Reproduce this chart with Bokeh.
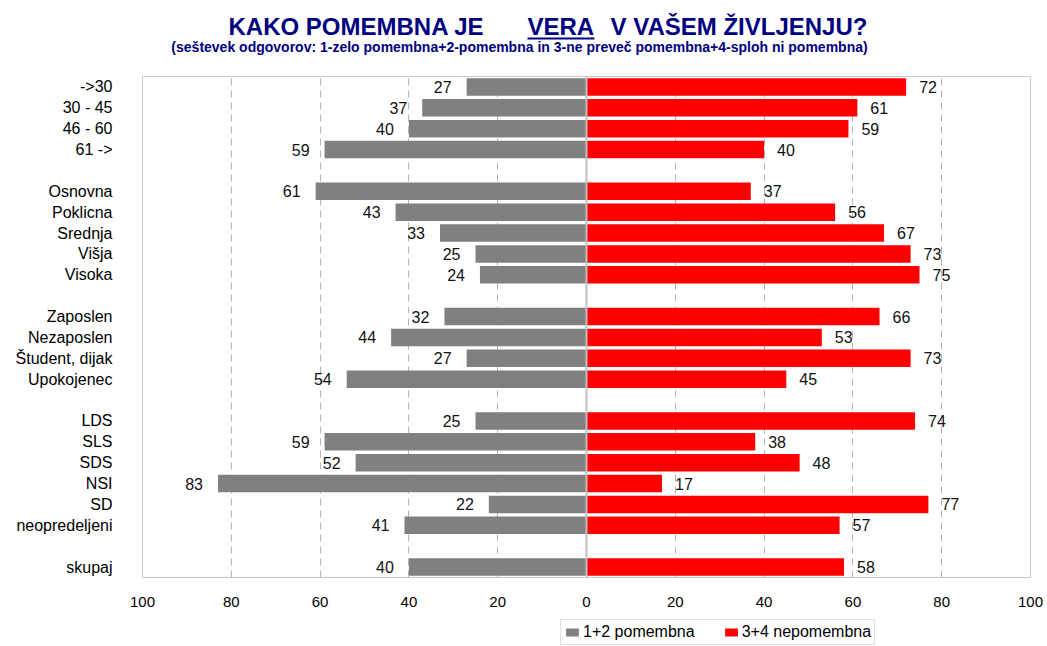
from bokeh.plotting import figure
from bokeh.models import (ColumnDataSource, FactorRange, Range1d, FixedTicker,
                          CustomJSTickFormatter, Legend, LegendItem, Span)
from bokeh.layouts import column
from bokeh.embed import file_html
from bokeh.resources import INLINE
from bokeh.core.properties import value

# ---- data ----
categories = ["->30", "30 - 45", "46 - 60", "61 ->",
              "Osnovna", "Poklicna", "Srednja", "Višja", "Visoka",
              "Zaposlen", "Nezaposlen", "Študent, dijak", "Upokojenec",
              "LDS", "SLS", "SDS", "NSI", "SD", "neopredeljeni",
              "skupaj"]
group_sizes = [4, 5, 4, 6, 1]
pomembna = [27, 37, 40, 59,
            61, 43, 33, 25, 24,
            32, 44, 27, 54,
            25, 59, 52, 83, 22, 41,
            40]
nepomembna = [72, 61, 59, 40,
              37, 56, 67, 73, 75,
              66, 53, 73, 45,
              74, 38, 48, 17, 77, 57,
              58]
ticks = list(range(-100, 101, 20))
series_names = ["1+2 pomembna", "3+4 nepomembna"]

FONT = "Liberation Sans"
NAVY = "#000080"
GRAY = "#808080"
RED = "#ff0000"
W = 1047
BL, BR = 142, 17                 # left/right borders shared by all stacked figures
FX0, FX1 = BL, W - BR            # frame extent in page pixels

# build factor list with blank spacer rows between groups
factors = []
i = 0
for g, n in enumerate(group_sizes):
    if g > 0:
        factors.append(" " * g)
    factors.extend(categories[i:i + n])
    i += n

src = ColumnDataSource(dict(
    cat=categories,
    neg=[-v for v in pomembna],
    pos=nepomembna,
    zero=[0] * len(categories),
    lneg=[str(v) for v in pomembna],
    lpos=[str(v) for v in nepomembna],
))

# ---- title figure (page-pixel coordinates) ----
TH = 70
t = figure(width=W, height=TH, x_range=Range1d(FX0, FX1), y_range=Range1d(TH, 0),
           output_backend="svg", toolbar_location=None,
           min_border_left=BL, min_border_right=BR, min_border_top=0, min_border_bottom=0,
           x_axis_location=None, y_axis_location=None, outline_line_color=None)
t.grid.visible = False
tkw = dict(text_font=value(FONT), text_font_size="24px", text_font_style="bold",
           text_color=NAVY, text_align="left", text_baseline="middle")
t.text(x=[228], y=[25.5], text=["KAKO POMEMBNA JE"], **tkw)
t.text(x=[527], y=[25.5], text=["VERA"], **tkw)
t.text(x=[610], y=[25.5], text=["V VAŠEM ŽIVLJENJU?"], **tkw)
t.segment(x0=[527], y0=[38], x1=[594], y1=[38], line_color=NAVY, line_width=2)
t.text(x=[519], y=[46],
       text=["(seštevek odgovorov: 1-zelo pomembna+2-pomembna in 3-ne preveč pomembna+4-sploh ni pomembna)"],
       text_font=value(FONT), text_font_size="14px", text_font_style="bold",
       text_color=NAVY, text_align="center", text_baseline="middle")

# ---- main figure ----
p = figure(width=W, height=540, y_range=FactorRange(factors=list(reversed(factors))),
           x_range=Range1d(-100, 100), output_backend="svg", toolbar_location=None,
           min_border_left=BL, min_border_right=BR, min_border_top=6, min_border_bottom=33)
p.outline_line_color = "#c8c8c8"
p.ygrid.visible = False
p.xgrid.ticker = FixedTicker(ticks=[-80, -60, -40, -20, 20, 40, 60, 80])
p.xgrid.grid_line_color = "#b4b4b4"
p.xgrid.grid_line_dash = "7 5"

p.hbar(y="cat", left="neg", right="zero", height=0.84, source=src,
       fill_color=GRAY, line_color=None)
p.hbar(y="cat", left="zero", right="pos", height=0.84, source=src,
       fill_color=RED, line_color=None)
p.add_layout(Span(location=0, dimension="height", line_color="#c0c0c0", line_width=2))

p.text(x="neg", y="cat", text="lneg", source=src, text_align="right",
       text_baseline="middle", x_offset=-15, text_font=value(FONT),
       text_font_size="16px", text_color="#111111")
p.text(x="pos", y="cat", text="lpos", source=src, text_align="left",
       text_baseline="middle", x_offset=13, text_font=value(FONT),
       text_font_size="16px", text_color="#111111")

p.xaxis.ticker = FixedTicker(ticks=ticks)
p.xaxis.formatter = CustomJSTickFormatter(code="return Math.abs(tick).toString();")
p.xaxis.axis_line_color = None
p.xaxis.major_tick_line_color = None
p.xaxis.minor_tick_line_color = None
p.xaxis.major_label_standoff = 13
p.xaxis.major_label_text_font = FONT
p.xaxis.major_label_text_font_size = "15px"
p.xaxis.major_label_text_color = "#000000"

p.yaxis.axis_line_color = None
p.yaxis.major_tick_line_color = None
p.yaxis.minor_tick_line_color = None
p.yaxis.major_label_standoff = 24
p.yaxis.major_label_text_font = FONT
p.yaxis.major_label_text_font_size = "16px"
p.yaxis.major_label_text_color = "#000000"

# ---- legend figure ----
LH = 36
lf = figure(width=W, height=LH, x_range=Range1d(0, 1), y_range=Range1d(0, 1),
            output_backend="svg", toolbar_location=None,
            min_border_left=BL, min_border_right=BR, min_border_top=0, min_border_bottom=0,
            x_axis_location=None, y_axis_location=None, outline_line_color=None)
lf.grid.visible = False
# legend swatches (one off-screen bar each so the legend draws its glyph)
g1 = lf.hbar(y=[-5], left=[-5], right=[-4], height=0.5, fill_color=GRAY, line_color=None)
g2 = lf.hbar(y=[-5], left=[-5], right=[-4], height=0.5, fill_color=RED, line_color=None)
legend = Legend(items=[LegendItem(label=series_names[0], renderers=[g1]),
                       LegendItem(label=series_names[1], renderers=[g2])],
                orientation="horizontal", location=(418, 1),
                border_line_color="#c0c0c0", border_line_width=1.5,
                label_text_font=FONT, label_text_color="#000000",
                label_text_font_size="16px", glyph_width=16, glyph_height=10,
                spacing=28, padding=3, margin=0, label_standoff=3,
                label_height=17)
lf.add_layout(legend)

layout = column(t, p, lf, spacing=0)
open("out.html", "w").write(file_html(layout, INLINE))
